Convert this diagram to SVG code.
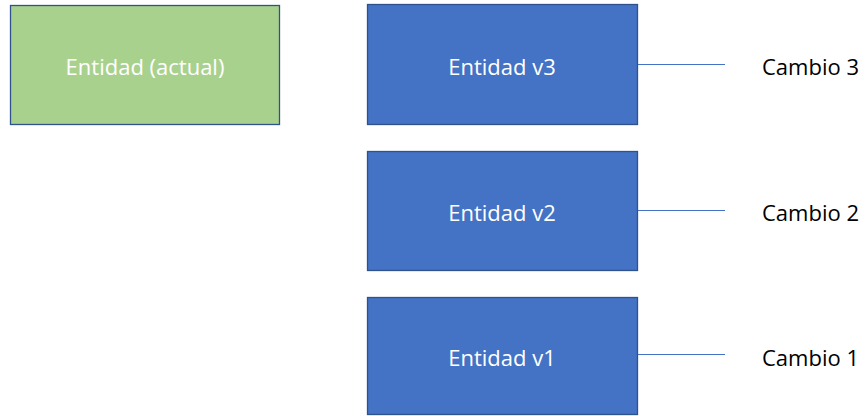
<svg xmlns="http://www.w3.org/2000/svg" width="866" height="416" viewBox="0 0 866 416">
<style>
.box{stroke:#2F528F;stroke-width:1.3}
.green{fill:#A9D18E}
.blue{fill:#4472C4}
.t{font-family:"Open Sans","Liberation Sans",sans-serif;font-size:22px;fill:#fff;text-anchor:middle;dominant-baseline:central}
.lbl{font-family:"Open Sans","Liberation Sans",sans-serif;font-size:22px;fill:#000;dominant-baseline:central}
.c{stroke:#4472C4;stroke-width:1;fill:none}
</style>
<rect width="866" height="416" fill="#fff"/>
<g id="actual"><rect class="box green" x="10.5" y="5.5" width="269" height="119"/><text class="t" x="145" y="66">Entidad (actual)</text></g>
<g id="v3"><rect class="box blue" x="367.5" y="4.5" width="270" height="120"/><text class="t" x="502" y="66">Entidad v3</text></g>
<g id="v2"><rect class="box blue" x="367.5" y="151.5" width="270" height="119"/><text class="t" x="502" y="212">Entidad v2</text></g>
<g id="v1"><rect class="box blue" x="367.5" y="297.5" width="270" height="117"/><text class="t" x="502" y="357">Entidad v1</text></g>
<g id="connectors">
<line class="c" x1="638" y1="64.5" x2="725" y2="64.5"/>
<line class="c" x1="638" y1="210.5" x2="725" y2="210.5"/>
<line class="c" x1="638" y1="354.5" x2="725" y2="354.5"/>
</g>
<g id="cambio3"><text class="lbl" x="762" y="66">Cambio 3</text></g>
<g id="cambio2"><text class="lbl" x="762" y="212">Cambio 2</text></g>
<g id="cambio1"><text class="lbl" x="762" y="357">Cambio 1</text></g>
</svg>
